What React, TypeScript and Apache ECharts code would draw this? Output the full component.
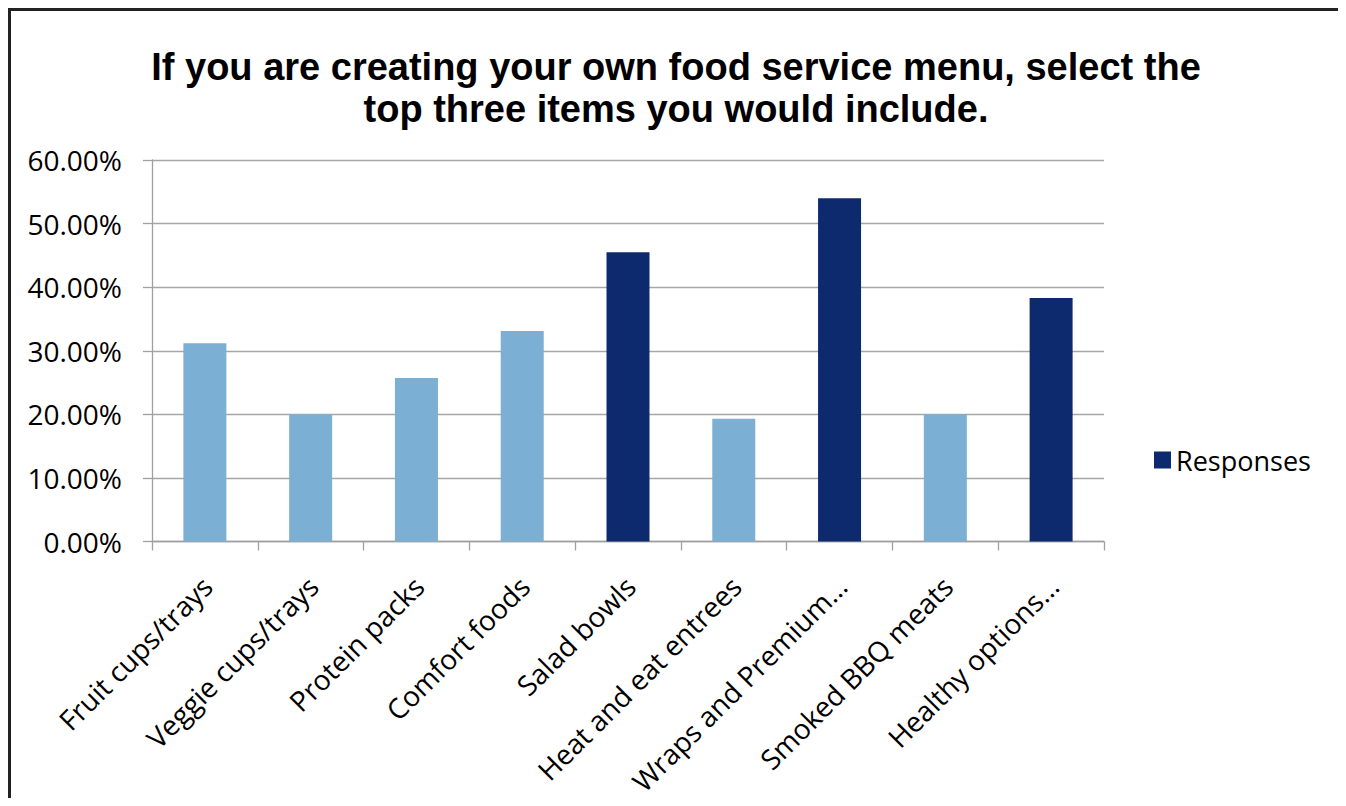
import React, { useEffect, useRef } from "react";
import * as echarts from "echarts";

const categories = [
  "Fruit cups/trays",
  "Veggie cups/trays",
  "Protein packs",
  "Comfort foods",
  "Salad bowls",
  "Heat and eat entrees",
  "Wraps and Premium…",
  "Smoked BBQ meats",
  "Healthy options…",
];
const values = [31.2, 20.0, 25.7, 33.1, 45.5, 19.3, 54.0, 20.0, 38.3];
const topThree = [false, false, false, false, true, false, true, false, true];
const seriesName = "Responses";
const titleLines = [
  "If you are creating your own food service menu, select the",
  "top three items you would include.",
];
const yTicks = { min: 0, max: 60, interval: 10 };

const DARK = "#0e2a6e";
const LIGHT = "#7bafd4";
const FONT = "'Open Sans', 'Noto Sans', sans-serif";

export default function App() {
  const ref = useRef<HTMLDivElement>(null);
  useEffect(() => {
    if (!ref.current) return;
    const chart = echarts.init(ref.current, null, { renderer: "svg" });
    chart.setOption({
      animation: false,
      backgroundColor: "#ffffff",
      title: {
        text: titleLines.join("\n"),
        left: 663,
        top: 33,
        textAlign: "center",
        textStyle: {
          fontFamily: "'Liberation Sans', Arial, sans-serif",
          fontWeight: "bold",
          fontSize: 38,
          lineHeight: 42,
          color: "#000",
        },
      },
      legend: {
        data: [{ name: seriesName, icon: "rect" }],
        left: 1146,
        top: 437,
        padding: 0,
        itemWidth: 17,
        itemHeight: 17,
        textStyle: {
          fontFamily: FONT,
          fontSize: 27,
          color: "#000",
          lineHeight: 30,
        },
      },
      grid: {
        left: 144,
        top: 152,
        width: 952,
        height: 383,
        containLabel: false,
      },
      xAxis: {
        type: "category",
        data: categories,
        boundaryGap: true,
        axisLine: { show: true, lineStyle: { color: "#a0a0a0", width: 1.3 } },
        axisTick: {
          show: true,
          length: 9,
          alignWithLabel: false,
          lineStyle: { color: "#a0a0a0", width: 1.3 },
        },
        axisLabel: {
          interval: 0,
          rotate: 45,
          margin: 22,
          verticalAlign: "top",
          padding: [0, 11, 0, 0],
          fontFamily: FONT,
          fontSize: 28,
          color: "#000",
        },
        splitLine: { show: false },
      },
      yAxis: {
        type: "value",
        min: yTicks.min,
        max: yTicks.max,
        interval: yTicks.interval,
        axisLine: { show: true, lineStyle: { color: "#a0a0a0", width: 1.3 } },
        axisTick: {
          show: true,
          length: 9,
          lineStyle: { color: "#a0a0a0", width: 1.3 },
        },
        axisLabel: {
          margin: 30,
          fontFamily: FONT,
          fontSize: 28,
          color: "#000",
          formatter: (v: number) => v.toFixed(2) + "%",
        },
        splitLine: { show: true, lineStyle: { color: "#a6a6a6", width: 1.3 } },
      },
      series: [
        {
          name: seriesName,
          type: "bar",
          barWidth: 43,
          itemStyle: { color: DARK },
          data: values.map((v, i) => ({
            value: v,
            itemStyle: { color: topThree[i] ? DARK : LIGHT },
          })),
        },
      ],
      graphic: [
        {
          type: "polyline",
          silent: true,
          shape: {
            points: [
              [1.5, 800],
              [1.5, 1.5],
              [1336.5, 1.5],
              [1336.5, 800],
            ],
          },
          style: { stroke: "#222", lineWidth: 3, fill: "none" },
        },
      ],
    });
    return () => chart.dispose();
  }, []);
  return (
    <div
      ref={ref}
      style={{ width: 1338, height: 790, overflow: "hidden" }}
    />
  );
}
